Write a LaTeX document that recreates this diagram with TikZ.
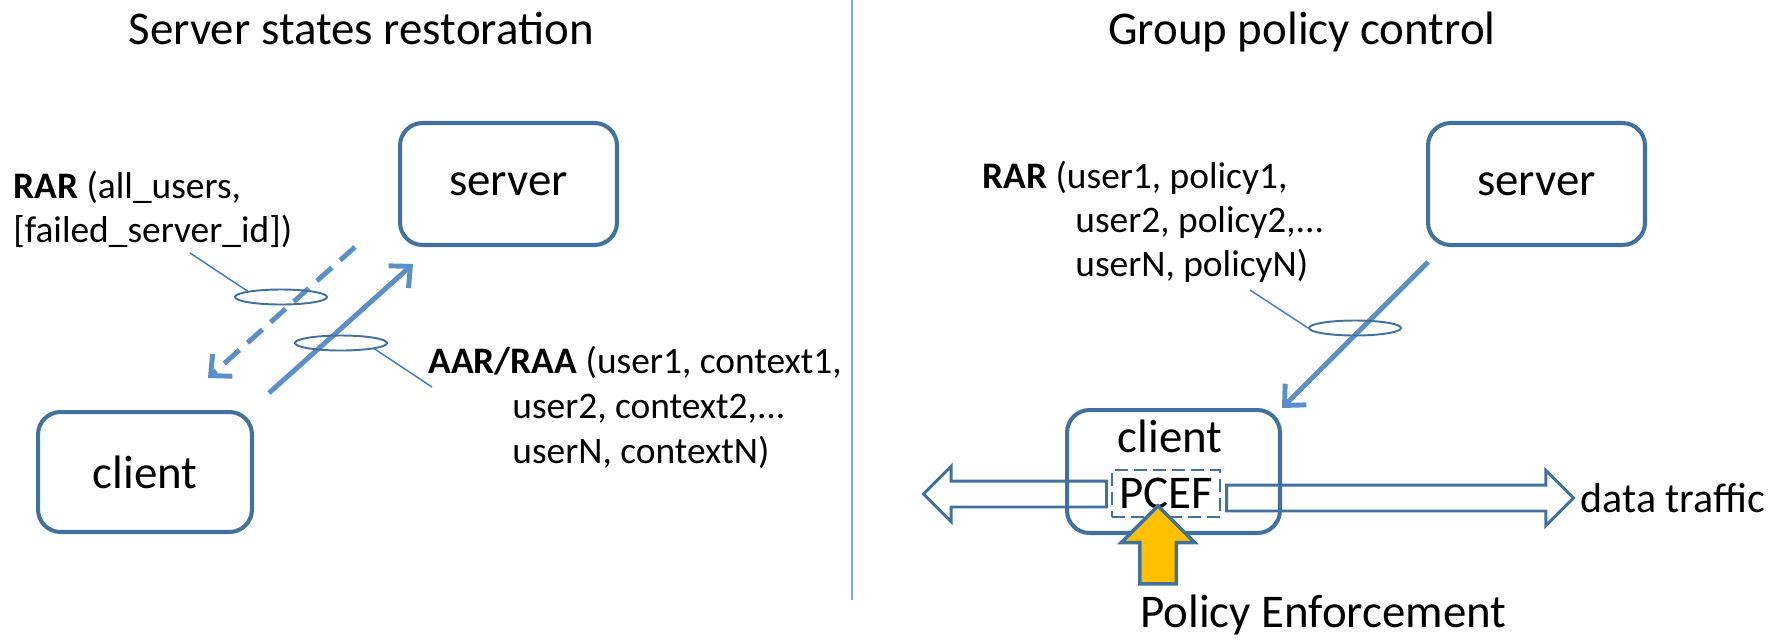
\documentclass[tikz,border=0pt]{standalone}
\usepackage{fontspec}
\setmainfont{Carlito}
\usepackage{tikz}
\usetikzlibrary{arrows,arrows.meta,shapes,calc}
\usetikzlibrary{positioning}
\definecolor{boxblue}{HTML}{41719C}
\definecolor{linkblue}{HTML}{5B8FC9}
\definecolor{leadblue}{HTML}{4A7EBB}
\definecolor{splitblue}{HTML}{7FA7DA}
\definecolor{policygold}{HTML}{FFC000}
\newcommand{\bigtext}{\fontsize{26.7}{32}\selectfont}
\newcommand{\labtext}{\fontsize{21.3}{25}\selectfont}
\newcommand{\traffictext}{\fontsize{23.9}{28}\selectfont}
\tikzset{
    host/.style={
           rectangle,
           rounded corners=0.45cm,
           draw=boxblue, line width=2.3pt,
           fill=white,
           minimum width=4.34cm,
           minimum height=2.44cm,
           font=\bigtext,
           },
    msg/.style={
           ->,
           draw=linkblue,
           line width=2.8pt,},
    lost/.style={
           msg,
           dash pattern=on 0.4cm off 0.22cm,},
    ring/.style={
           ellipse,
           draw=boxblue, line width=1.1pt,
           minimum width=1.84cm,
           minimum height=0.3cm,
           inner sep=0pt,},
    lead/.style={
           draw=leadblue,
           line width=0.85pt,},
    msgtext/.style={
           anchor=base west,
           inner sep=0pt,
           font=\labtext,},
    pipe/.style={
           single arrow,
           draw=boxblue, line width=1.7pt,
           inner xsep=0pt, inner ysep=0.23cm,
           single arrow head extend=0.29cm,},
    pcef/.style={
           rectangle,
           draw=boxblue, line width=1.4pt,
           dash pattern=on 0.26cm off 0.12cm,
           minimum width=2.16cm,
           minimum height=0.94cm,
           inner sep=0pt,
           font=\bigtext,},
    push/.style={
           single arrow,
           fill=policygold,
           draw=boxblue, line width=2pt,
           inner xsep=0pt, inner ysep=0.33cm,
           single arrow head extend=0.37cm,
           minimum height=1.56cm,},
}

\begin{document}
\begin{tikzpicture}[x=0.02cm,y=-0.02cm,>={Straight Barb[length=9pt,width=17pt]}]
\useasboundingbox (0,0) rectangle (1775,640);
% TITLES AND DIVIDER
\node[font=\bigtext, anchor=base, inner sep=0pt] (titleL) at (361,44) {Server states restoration};
\node[font=\bigtext, anchor=base, inner sep=0pt] (titleR) at (1302,44) {Group policy control};
\draw[splitblue, line width=1.1pt] (852,0) -- (852,600);

% SERVER STATES RESTORATION
% Position of server and client
\node[host] (serverL) at (508.5,184) {server};
\node[host,
minimum width=4.28cm,
minimum height=2.4cm] (clientL) at (145,472) {client};
% Messages between them
\coordinate (rarFrom) at ($(serverL.south west)+(-43,0)$);
\coordinate (rarTo) at ($(clientL.north east)+(-46,-32)$);
\coordinate (aarFrom) at ($(clientL.north east)+(15,-17)$);
\coordinate (aarTo) at ($(serverL.south west)+(15,17)$);
\draw[lost] (rarFrom) -- (rarTo);
\draw[msg] (aarFrom) -- (aarTo);
\node[ring] (ringRAR) at (281,297) {};
\node[ring] (ringAAR) at (341,343) {};
% Message labels
\node[msgtext] (rarA1) at (13,198) {\textbf{RAR} (all\_users,};
\node[msgtext] (rarA2) at (13,242) {[failed\_server\_id])};
\node[msgtext] (aarA1) at (428,373) {\textbf{AAR/RAA} (user1, context1,};
\node[msgtext] (aarA2) at (512,418) {user2, context2,...};
\node[msgtext] (aarA3) at (512,463) {userN, contextN)};
\coordinate (rarTag) at (190,253);
\coordinate (aarTag) at ($(aarA1.base west)+(4,14)$);
\draw[lead] (ringRAR.170) -- (rarTag);
\draw[lead] (ringAAR.-10) -- (aarTag);

% GROUP POLICY CONTROL
% Position of server and client
\node[host] (serverR) at (1536.5,184) {server};
\node[host,
minimum width=4.26cm,
minimum height=2.46cm] (clientR) at (1173.5,471.5) {};
\node[font=\bigtext, anchor=base, inner sep=0pt] (clientRname) at (1170,452) {client};
% Data traffic through the PCEF
\node[pipe, rotate=180, minimum height=3.66cm] (dataL) at (1021.5,494) {};
\node[pipe, minimum height=6.94cm] (dataR) at (1393.5,498) {};
\node[pcef] (pcef) at (1166,493.5) {PCEF};
\node[font=\traffictext, inner sep=0pt, right=0.1cm of dataR.tip] (traffic) {data traffic};
% Policy enforcement
\node[push, rotate=90] (push) at (1158,554) {};
\node[font=\bigtext, anchor=base west, inner sep=0pt] (enforce) at (1140,627) {Policy Enforcement};
% Policy message
\coordinate (polFrom) at ($(serverR.south west)+(2,15)$);
\draw[msg] (polFrom) -- (clientR.north east);
\node[ring] (ringPOL) at (1355,328) {};
\node[msgtext] (polA1) at (982,188) {\textbf{RAR} (user1, policy1,};
\node[msgtext] (polA2) at (1075,232) {user2, policy2,...};
\node[msgtext] (polA3) at (1075,276) {userN, policyN)};
\coordinate (polTag) at (1250,290);
\draw[lead] (ringPOL.west) -- (polTag);
\end{tikzpicture}
\end{document}
